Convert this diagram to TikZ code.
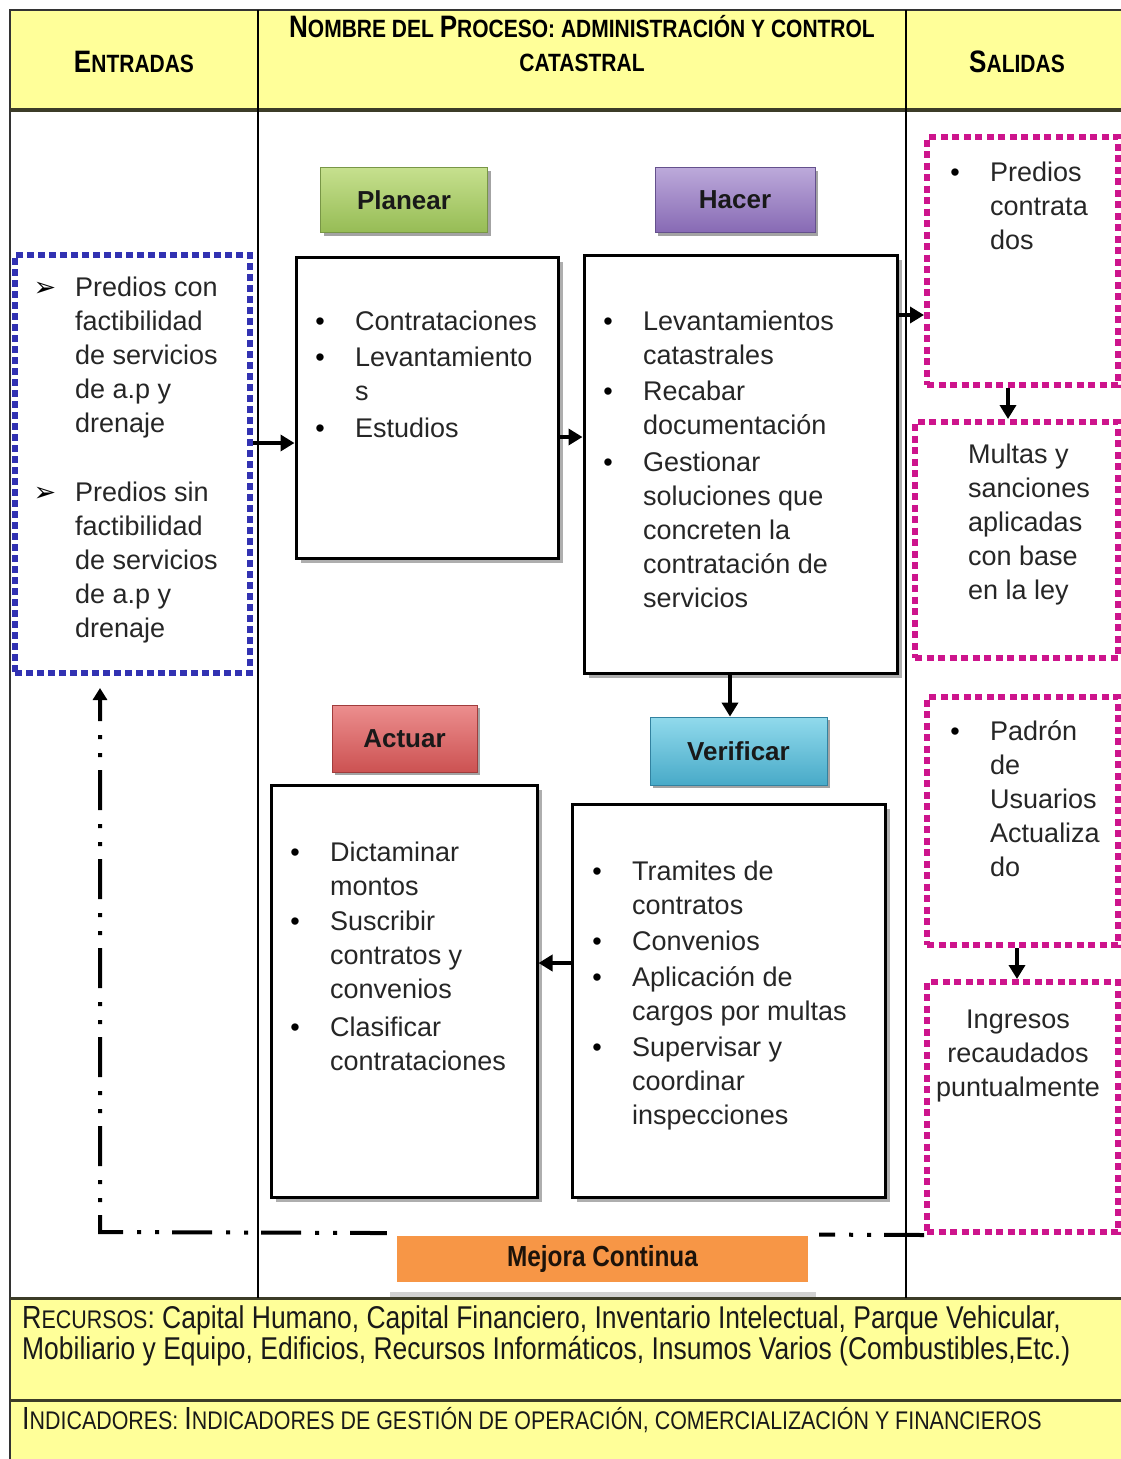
\documentclass[tikz,border=0pt]{standalone}
\usepackage{fontspec}
\setmainfont{Liberation Sans}
\newfontfamily\narrowfont[FakeStretch=0.84]{Liberation Sans}
\newfontfamily\dingfont{DejaVu Sans}
\usetikzlibrary{arrows.meta,shadows}

\definecolor{paleyellow}{RGB}{255,255,153}
\definecolor{inblue}{RGB}{50,50,178}
\definecolor{outpink}{RGB}{205,20,140}
\definecolor{bodytext}{RGB}{38,38,38}
\definecolor{rule}{RGB}{60,60,40}
\definecolor{mejora}{RGB}{247,150,70}

% font sizes
\newcommand{\bodyfont}{\fontsize{27}{34}\selectfont}
\newcommand{\hbig}{\fontsize{31}{34}\selectfont}
\newcommand{\hsmall}{\fontsize{25}{34}\selectfont}
\newcommand{\pbig}{\fontsize{31}{34}\selectfont}
\newcommand{\psmall}{\fontsize{25}{34}\selectfont}
\newcommand{\rbig}{\fontsize{32}{31}\selectfont}
\newcommand{\rsmall}{\fontsize{25.5}{31}\selectfont}

\begin{document}
\begin{tikzpicture}[x=1pt,y=-1pt,
  hdr/.style={inner sep=0pt, font=\narrowfont\bfseries, text=black},
  lbl/.style={inner sep=0pt, font=\fontsize{26}{30}\selectfont\bfseries, text=black!90,
    drop shadow={shadow xshift=3pt, shadow yshift=-3pt, fill=black!60, opacity=0.6}},
  content/.style={draw=black, line width=3pt, fill=white, inner sep=0pt,
    drop shadow={shadow xshift=5pt, shadow yshift=-5pt, fill=black!45, opacity=0.7}},
  inframe/.style={draw=inblue, line width=6pt, dash pattern=on 7pt off 4pt, inner sep=0pt},
  outframe/.style={draw=outpink, line width=6pt, dash pattern=on 7pt off 4.5pt, inner sep=0pt},
  body/.style={anchor=north west, inner sep=0pt, align=left, font=\bodyfont, text=bodytext},
  bodyc/.style={anchor=north, inner sep=0pt, align=center, font=\bodyfont, text=bodytext},
  bul/.style={anchor=base, inner sep=0pt, font=\bodyfont, text=black},
  abul/.style={anchor=base, inner sep=0pt, font=\dingfont\fontsize{27}{34}\selectfont, text=black},
  flow/.style={line width=3.5pt, -{Triangle[length=14pt,width=16pt]}},
  loopline/.style={line width=4pt, dash pattern=on 40pt off 13pt on 4pt off 14pt on 4pt off 14pt,
    -{Triangle[length=12pt,width=14pt]}}
]
\useasboundingbox (0,0) rectangle (1121,1459);
\fill[white] (0,0) rectangle (1121,1459);

% yellow bands: header, resources, indicators
\fill[paleyellow] (10,10) rectangle (1121,110);
\fill[paleyellow] (10,1298) rectangle (1121,1459);

% table rules
\draw[line width=1.5pt, black!80] (10,1459) -- (10,10) -- (1121,10);
\draw[line width=4pt, rule] (10,110) -- (1121,110);
\draw[line width=3pt, rule] (10,1298) -- (1121,1298);
\draw[line width=3pt, rule] (10,1400) -- (1121,1400);
\draw[line width=1.6pt, black] (258,10) -- (258,1298);
\draw[line width=1.6pt, black] (906,10) -- (906,1298);

% header texts
\node[hdr] (entradas) at (134,62) {{\hbig E}{\hsmall NTRADAS}};
\node[hdr, align=center, font=\narrowfont\bfseries\fontsize{25}{34}\selectfont] (proceso) at (582,44)
  {{\pbig N}{\psmall OMBRE DEL }{\pbig P}{\psmall ROCESO: ADMINISTRACIÓN Y CONTROL}\\{\psmall CATASTRAL}};
\node[hdr] (salidas) at (1017,62) {{\hbig S}{\hsmall ALIDAS}};

% corner of the improvement loop
\coordinate (fbcorner) at (100,1232);

% outputs
\node[outframe, minimum width=191pt, minimum height=248pt] (out1) at (1022.5,261) {};
\node[outframe, minimum width=203pt, minimum height=236pt] (out2) at (1016.5,540) {};
\node[outframe, minimum width=191pt, minimum height=248pt] (out3) at (1022.5,821) {};
\node[outframe, minimum width=191pt, minimum height=250pt] (out4) at (1022.5,1107) {};

\draw[loopline] (out4.south west) -- (fbcorner) -- ([yshift=-15pt]fbcorner |- 0,673);

% Mejora Continua tab
\node[fill=white, minimum width=432pt, minimum height=68pt, inner sep=0pt] (mejoraback) at (603,1262) {};
\fill[black!18] (390,1292) rectangle (816,1297);
\node[fill=mejora, minimum width=411pt, minimum height=46pt, inner sep=0pt,
  font=\narrowfont\bfseries\fontsize{29}{30}\selectfont, text=black!85!brown] (mejora) at (602.5,1259) {Mejora Continua};

% inputs
\node[inframe, minimum width=235pt, minimum height=418pt] (inbox) at (132.5,464) {};
\node[abul] (inb1) at (45,296) {➢};
\node[body] (in1) at (75,272) {\strut Predios con\\factibilidad\\de servicios\\de a.p y\\drenaje};
\node[abul] (inb2) at (45,501) {➢};
\node[body] (in2) at (75,477) {\strut Predios sin\\factibilidad\\de servicios\\de a.p y\\drenaje};

% phase labels
\node[lbl, minimum width=167pt, minimum height=65pt,
  top color={rgb,255:red,198;green,224;blue,142}, bottom color={rgb,255:red,150;green,188;blue,85},
  draw={rgb,255:red,120;green,150;blue,70}, line width=0.8pt] (planlbl) at (404,200) {Planear};
\node[lbl, minimum width=160pt, minimum height=65pt,
  top color={rgb,255:red,188;green,170;blue,218}, bottom color={rgb,255:red,135;green,105;blue,180},
  draw={rgb,255:red,100;green,80;blue,140}, line width=0.8pt] (hacerlbl) at (735,200) {Hacer};
\node[lbl, minimum width=145pt, minimum height=67pt,
  top color={rgb,255:red,236;green,142;blue,142}, bottom color={rgb,255:red,204;green,82;blue,82},
  draw={rgb,255:red,160;green,60;blue,60}, line width=0.8pt] (actlbl) at (404.5,738.5) {Actuar};
\node[lbl, minimum width=177pt, minimum height=68pt,
  top color={rgb,255:red,145;green,218;blue,236}, bottom color={rgb,255:red,72;green,170;blue,200},
  draw={rgb,255:red,50;green,130;blue,160}, line width=0.8pt] (verlbl) at (738.5,751) {Verificar};

% phase boxes
\node[content, minimum width=262pt, minimum height=301pt] (planbox) at (427,407.5) {};
\node[content, minimum width=313pt, minimum height=418pt] (hacerbox) at (740.5,464) {};
\node[content, minimum width=266pt, minimum height=412pt] (actbox) at (404,991) {};
\node[content, minimum width=313pt, minimum height=393pt] (verbox) at (728.5,1000.5) {};

% Planear items
\node[bul] (pb1) at (320,330) {•};
\node[body] (p1) at (355,306) {\strut Contrataciones};
\node[bul] (pb2) at (320,366) {•};
\node[body] (p2) at (355,342) {\strut Levantamiento\\s};
\node[bul] (pb3) at (320,437) {•};
\node[body] (p3) at (355,413) {\strut Estudios};

% Hacer items
\node[bul] (hb1) at (608,330) {•};
\node[body] (h1) at (643,306) {\strut Levantamientos\\catastrales};
\node[bul] (hb2) at (608,400) {•};
\node[body] (h2) at (643,376) {\strut Recabar\\documentación};
\node[bul] (hb3) at (608,471) {•};
\node[body] (h3) at (643,447) {\strut Gestionar\\soluciones que\\concreten la\\contratación de\\servicios};

% Actuar items
\node[bul] (ab1) at (295,861) {•};
\node[body] (a1) at (330,837) {\strut Dictaminar\\montos};
\node[bul] (ab2) at (295,930) {•};
\node[body] (a2) at (330,906) {\strut Suscribir\\contratos y\\convenios};
\node[bul] (ab3) at (295,1036) {•};
\node[body] (a3) at (330,1012) {\strut Clasificar\\contrataciones};

% Verificar items
\node[bul] (vb1) at (597,880) {•};
\node[body] (v1) at (632,856) {\strut Tramites de\\contratos};
\node[bul] (vb2) at (597,950) {•};
\node[body] (v2) at (632,926) {\strut Convenios};
\node[bul] (vb3) at (597,986) {•};
\node[body] (v3) at (632,962) {\strut Aplicación de\\cargos por multas};
\node[bul] (vb4) at (597,1056) {•};
\node[body] (v4) at (632,1032) {\strut Supervisar y\\coordinar\\inspecciones};

% output texts
\node[bul] (ob1) at (955,181) {•};
\node[body] (o1) at (990,157) {\strut Predios\\contrata\\dos};
\node[body] (o2) at (968,439) {\strut Multas y\\sanciones\\aplicadas\\con base\\en la ley};
\node[bul] (ob3) at (955,740) {•};
\node[body] (o3) at (990,716) {\strut Padrón\\de\\Usuarios\\Actualiza\\do};
\node[bodyc] (o4) at (1018,1004) {\strut Ingresos\\recaudados\\puntualmente};

% flow arrows
\draw[flow] (inbox.east |- 0,443) -- (planbox.west |- 0,443);
\draw[flow] (planbox.east |- 0,437) -- (hacerbox.west |- 0,437);
\draw[flow] (hacerbox.east |- 0,315) -- (out1.west |- 0,315);
\draw[flow] (hacerbox.south -| 730,0) -- (verlbl.north -| 730,0);
\draw[flow] (verbox.west |- 0,963) -- (actbox.east |- 0,963);
\draw[flow] (out1.south -| 1008,0) -- (out2.north -| 1008,0);
\draw[flow] (out3.south -| 1017,0) -- (out4.north -| 1017,0);

% bottom rows
\node[anchor=base west, inner sep=0pt, font=\narrowfont\fontsize{31.5}{31}\selectfont, text=black!90] (rec1) at (22,1328)
  {{\rbig R}{\rsmall ECURSOS}: Capital Humano, Capital Financiero, Inventario Intelectual, Parque Vehicular,};
\node[anchor=base west, inner sep=0pt, font=\narrowfont\fontsize{31.5}{31}\selectfont, text=black!90] (rec2) at (22,1359)
  {Mobiliario y Equipo, Edificios, Recursos Informáticos, Insumos Varios (Combustibles,Etc.)};
\node[anchor=base west, inner sep=0pt, font=\narrowfont\fontsize{25.5}{31}\selectfont, text=black!90] (ind) at (22,1429)
  {{\rbig I}{\rsmall NDICADORES}: {\rbig I}{\rsmall NDICADORES DE GESTIÓN DE OPERACIÓN, COMERCIALIZACIÓN Y FINANCIEROS}};
\end{tikzpicture}
\end{document}
